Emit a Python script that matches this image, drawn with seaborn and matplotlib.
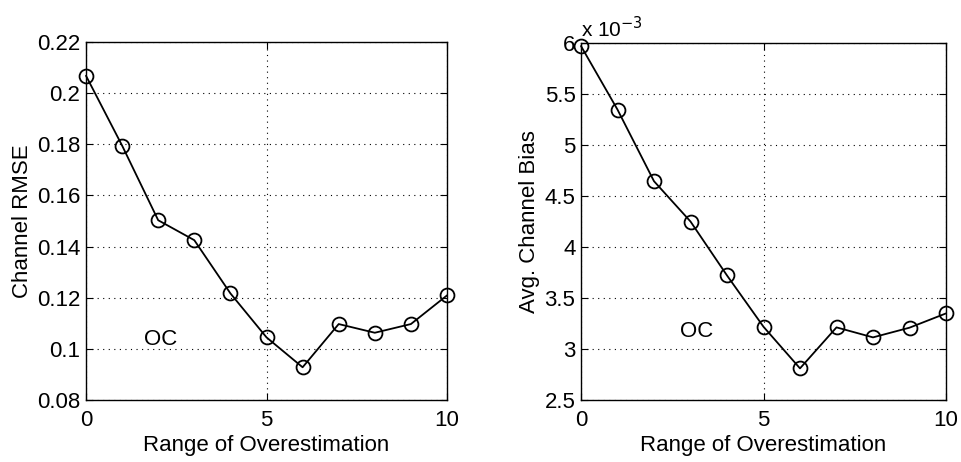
import matplotlib
matplotlib.use("Agg")
import matplotlib.pyplot as plt
import seaborn as sns
import pandas as pd

overestimation = [0, 1, 2, 3, 4, 5, 6, 7, 8, 9, 10]
channel_rmse = [0.2068, 0.1795, 0.1503, 0.1425, 0.1217, 0.1045, 0.0928, 0.1097, 0.1063, 0.1097, 0.1209]
avg_channel_bias_e3 = [5.97, 5.347, 4.645, 4.25, 3.721, 3.218, 2.81, 3.212, 3.114, 3.209, 3.349]

rmse_ticks = [0.08, 0.1, 0.12, 0.14, 0.16, 0.18, 0.2, 0.22]
rmse_tick_labels = ["0.08", "0.1", "0.12", "0.14", "0.16", "0.18", "0.2", "0.22"]
bias_ticks = [2.5, 3, 3.5, 4, 4.5, 5, 5.5, 6]
bias_tick_labels = ["2.5", "3", "3.5", "4", "4.5", "5", "5.5", "6"]
x_ticks = [0, 5, 10]

sns.set_style("ticks")
plt.rcParams['font.family'] = ['Liberation Sans', 'DejaVu Sans']
plt.rcParams['text.color'] = 'black'
plt.rcParams['axes.labelcolor'] = 'black'

df = pd.DataFrame({"x": overestimation, "rmse": channel_rmse, "bias": avg_channel_bias_e3})

fig = plt.figure(figsize=(9.61, 4.62), dpi=100)
ax1 = fig.add_axes([86/961, 1 - 400/462, (447-86)/961, (400-42)/462])
ax2 = fig.add_axes([581/961, 1 - 400/462, (946-581)/961, (400-43)/462])

fs = 16

def style(ax, yticks, ylabels, ylim, ylabel):
    ax.set_xlim(0, 10)
    ax.set_ylim(*ylim)
    ax.set_xticks(x_ticks)
    ax.set_xticklabels([str(t) for t in x_ticks], fontsize=fs)
    ax.set_yticks(yticks)
    ax.set_yticklabels(ylabels, fontsize=fs)
    ax.grid(True, color='black', linestyle=(0, (1, 4)), linewidth=0.8)
    ax.tick_params(direction='in', top=True, right=True, length=5, width=0.8, colors='black')
    ax.tick_params(axis='x', pad=7)
    ax.tick_params(axis='y', pad=4)
    for s in ax.spines.values():
        s.set_color('black')
        s.set_linewidth(1.0)
    ax.set_xlabel("Range of Overestimation", fontsize=fs, labelpad=3)
    ax.set_ylabel(ylabel, fontsize=fs, labelpad=3)

sns.lineplot(data=df, x="x", y="rmse", ax=ax1, color='black', linewidth=1.3,
             marker='o', markersize=10, markerfacecolor='none', markeredgecolor='black',
             markeredgewidth=1.3, clip_on=False)
style(ax1, rmse_ticks, rmse_tick_labels, (0.08, 0.22), "Channel RMSE")
ax1.text(1.6, 0.1035, "OC", fontsize=fs, va='center', ha='left')

sns.lineplot(data=df, x="x", y="bias", ax=ax2, color='black', linewidth=1.3,
             marker='o', markersize=10, markerfacecolor='none', markeredgecolor='black',
             markeredgewidth=1.3, clip_on=False)
style(ax2, bias_ticks, bias_tick_labels, (2.5, 6), "Avg. Channel Bias")
ax2.text(2.7, 3.17, "OC", fontsize=fs, va='center', ha='left')
ax2.text(0.0, 1.005, r"x 10$^{-3}$", transform=ax2.transAxes, fontsize=15, va='bottom', ha='left')

fig.savefig("out.png", dpi=100, facecolor='white')
